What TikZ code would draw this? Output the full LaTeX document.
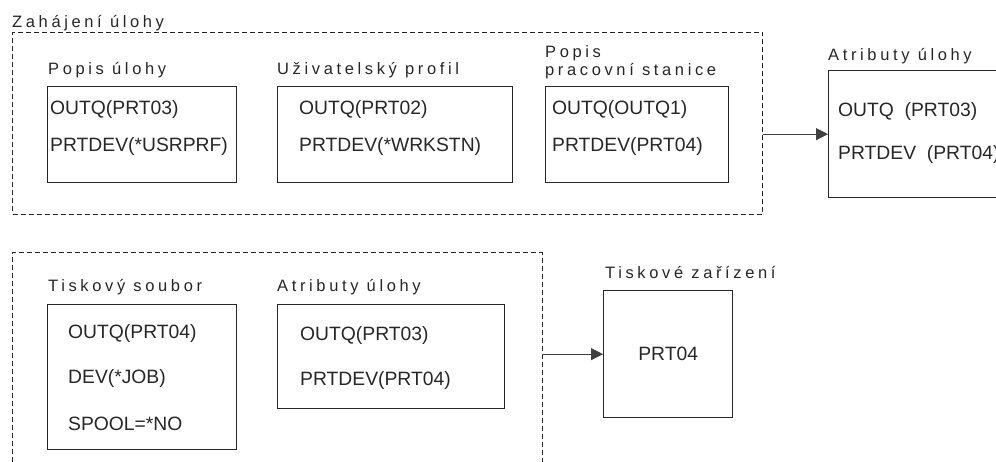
\documentclass[tikz,border=0pt]{standalone}
\usepackage{fontspec}
\setmainfont{Liberation Sans}
\newfontfamily\lblfont[LetterSpace=22]{Liberation Sans}
\usetikzlibrary{arrows.meta}
\begin{document}
\begin{tikzpicture}[x=1pt,y=-1pt,
  box/.style={draw=black!85, line width=1.3pt, inner sep=0pt, anchor=north west},
  lbl/.style={anchor=base west, inner sep=0pt, font=\lblfont\fontsize{16.5}{17}\selectfont, text=black!85},
  val/.style={anchor=west, inner sep=0pt, font=\fontsize{19.3}{22}\selectfont, text=black!85},
  grp/.style={draw=black!85, dash pattern=on 5pt off 3pt, line width=1pt},
  conn/.style={-{Triangle[length=12pt,width=12pt]}, line width=0.9pt, draw=black!75}
]
\useasboundingbox (0,0) rectangle (996,462);

% upper group
\node[grp, anchor=north west, minimum width=750pt, minimum height=182pt, inner sep=0pt] (g1) at (12,32) {};
\node[lbl] (g1l) at (12,28) {Zahájení úlohy};

\node[lbl] (b1l) at (48,75) {Popis úlohy};
\node[box, minimum width=189pt, minimum height=96pt] (b1) at (47,86) {};
\node[val] (b1a) at (50,110) {OUTQ(PRT03)};
\node[val] (b1b) at (50,147) {PRTDEV(*USRPRF)};

\node[lbl] (b2l) at (277,75) {Uživatelský profil};
\node[box, minimum width=235pt, minimum height=96pt] (b2) at (277,86) {};
\node[val] (b2a) at (299,110) {OUTQ(PRT02)};
\node[val] (b2b) at (299,147) {PRTDEV(*WRKSTN)};

\node[lbl] (b3l1) at (545,58) {Popis};
\node[lbl] (b3l2) at (545,76) {pracovní stanice};
\node[box, minimum width=183pt, minimum height=96pt] (b3) at (545,86) {};
\node[val] (b3a) at (552,110) {OUTQ(OUTQ1)};
\node[val] (b3b) at (552,147) {PRTDEV(PRT04)};

\node[lbl] (r1l) at (828,61) {Atributy úlohy};
\node[box, minimum width=182pt, minimum height=127pt] (r1) at (828,70) {};
\node[val] (r1a) at (838,112) {OUTQ\ \ (PRT03)};
\node[val] (r1b) at (838,155) {PRTDEV\ \ (PRT04)};

\draw[conn] (g1.east |- r1.west) -- (r1.west);

% lower group
\coordinate (g2bl) at (12,470);
\coordinate (g2tl) at (12,253);
\coordinate (g2tr) at (542,253);
\coordinate (g2br) at (542,470);
\draw[grp] (g2bl) -- (g2tl) -- (g2tr) -- (g2br);

\node[lbl] (b4l) at (48,292) {Tiskový soubor};
\node[box, minimum width=189pt, minimum height=145pt] (b4) at (47,304) {};
\node[val] (b4a) at (68,334) {OUTQ(PRT04)};
\node[val] (b4b) at (68,379) {DEV(*JOB)};
\node[val] (b4c) at (68,424) {SPOOL=*NO};

\node[lbl] (b5l) at (277,292) {Atributy úlohy};
\node[box, minimum width=227pt, minimum height=104pt] (b5) at (277,304) {};
\node[val] (b5a) at (300,336) {OUTQ(PRT03)};
\node[val] (b5b) at (300,381) {PRTDEV(PRT04)};

\node[lbl] (b6l) at (605,279) {Tiskové zařízení};
\node[box, minimum width=129pt, minimum height=127pt] (b6) at (603,290) {};
\node[val, anchor=center] (b6a) at (b6.center) {PRT04};

\draw[conn] (g2tr |- b6.west) -- (b6.west);
\end{tikzpicture}
\end{document}
